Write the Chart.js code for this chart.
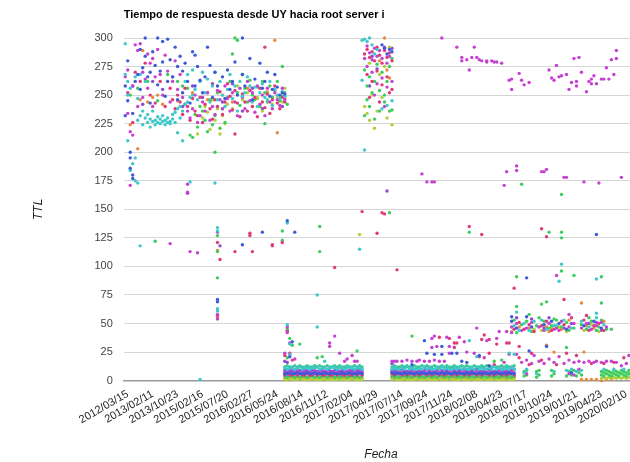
<!DOCTYPE html>
<html><head><meta charset="utf-8">
<script src="https://cdn.jsdelivr.net/npm/chart.js@4/dist/chart.umd.min.js"></script>
<style>html,body{margin:0;padding:0;background:#fff;overflow:hidden;width:630px;height:462px}#wrap{width:640px;height:462px}</style>
</head><body><div id="wrap"><canvas id="c" width="640" height="462"></canvas></div>
<script>
const chartTitle = "Tiempo de respuesta desde UY hacia root server i";
const xTitle = "Fecha";
const yTitle = "TTL";
const tickLabels = ["2012/03/15","2013/02/11","2013/10/23","2015/02/16","2015/07/20","2016/02/27","2016/05/24","2016/08/14","2016/11/12","2017/02/04","2017/04/29","2017/07/14","2017/09/24","2017/11/24","2018/02/08","2018/04/23","2018/07/17","2018/10/24","2019/01/21","2019/04/23","2020/02/10"];
const yTicks = [0,25,50,75,100,125,150,175,200,225,250,275,300];

// scattered samples per probe colour: [sample index, TTL]
const bluePts = [[-1,232],[-1,258],[0,280],[0,245],[1,200],[1,186],[2,180],[2,177],[1,195],[2,234],[3,262],[4,268],[5,290],[5,255],[6,274],[7,300],[7,284],[8,266],[9,270],[9,243],[10,288],[11,276],[12,300],[12,259],[13,271],[14,297],[14,279],[15,249],[16,262],[16,299],[17,281],[18,266],[19,292],[20,275],[20,246],[21,284],[22,271],[22,252],[23,278],[24,262],[25,243],[26,288],[27,285],[27,258],[28,275],[29,263],[30,252],[31,266],[32,292],[33,276],[34,248],[35,270],[36,258],[38,266],[39,247],[40,272],[41,255],[42,262],[43,279],[44,250],[46,300],[46,268],[47,258],[49,282],[50,246],[51,264],[53,278],[54,256],[55,262],[56,270],[57,249],[58,255],[59,268],[60,257],[61,250],[62,252],[63,251],
[46,119],[54,130],[64,140],[67,130],[36,71],[36,69],[66,34],[65,21],
[119,35],[126,30],[120,24],[123,23],[126,23],[130,24],[132,24],[134,17],[136,16],[141,22],[114,14],[145,13],
[103,291],[104,286],[105,290],[106,288],[102,294],
[156,46],[154,52],[160,56],[162,47],[167,49],[170,52],[173,50],[176,45],[183,48],[187,52],[190,46],[154,56],[160,90],[188,128],[178,7],[168,30],[161,26]];
const cyanPts = [[-1,295],[-1,268],[0,262],[0,210],[0,250],[1,256],[1,184],[2,190],[3,175],[3,195],[4,173],[3,266],[4,228],[4,247],[5,232],[5,268],[6,236],[6,224],[7,230],[7,262],[8,226],[8,233],[9,229],[9,222],[10,227],[10,236],[11,228],[11,224],[12,231],[12,226],[13,225],[13,229],[14,232],[14,227],[15,224],[15,228],[16,226],[16,230],[17,227],[17,225],[18,233],[18,229],[19,235],[19,226],[20,238],[20,217],[21,240],[21,230],[22,236],[22,210],[23,242],[23,262],[24,244],[24,268],[25,248],[25,174],[26,250],[26,272],[27,255],[28,246],[29,262],[30,270],[31,252],[32,264],[33,244],[34,258],[35,270],[35,173],[36,246],[37,262],[38,250],[39,240],[40,255],[41,268],[42,247],[43,258],[44,236],[45,262],[46,249],[47,252],[48,266],[49,258],[50,244],[51,257],[52,240],[53,252],[54,260],[55,248],[56,246],[57,262],[58,241],[59,255],[60,250],[61,247],[62,253],[63,249],
[5,118],[36,131],[36,134],[36,63],[36,61],[64,138],[29,1],[64,49],[65,32],[65,23],[76,47],[76,75],[79,17],
[94,298],[95,299],[96,297],[97,300],[98,294],[99,286],[95,202],[102,238],[104,241],[106,245],[100,290],[94,263],[93,115],
[137,35],[140,21],[153,24],[155,23],
[155,48],[157,44],[159,50],[161,44],[163,52],[166,53],[168,45],[171,48],[172,48],[175,53],[178,46],[182,52],[185,47],[188,55],[191,49],[156,60],[188,59],[188,89],[173,87],[174,102],[159,7],[160,10],[164,6],[171,8],[176,9],[178,10],[180,8],[182,9],[191,10],[195,10],[199,10]];
const magentaPts = [[-1,266],[0,272],[0,234],[1,218],[1,171],[2,215],[2,258],[3,294],[4,289],[4,240],[5,295],[6,270],[6,248],[7,264],[8,286],[8,256],[9,278],[10,282],[10,240],[11,266],[12,290],[13,268],[14,250],[15,285],[16,271],[17,244],[18,262],[19,280],[20,255],[21,268],[22,248],[23,242],[24,236],[24,172],[24,165],[25,230],[26,238],[27,250],[28,226],[29,232],[30,244],[31,236],[32,252],[33,228],[34,240],[35,233],[36,254],[37,246],[38,238],[39,258],[40,247],[41,236],[42,252],[43,244],[44,232],[45,256],[46,248],[47,238],[48,262],[49,245],[50,252],[51,235],[52,258],[53,242],[54,250],[55,232],[56,256],[57,244],[58,238],[59,252],[60,246],[61,241],[62,256],[63,246],
[17,120],[25,113],[28,112],[36,130],[36,58],[36,54],[64,47],[64,42],[65,33],[63,24],[67,19],
[81,33],[83,39],[85,24],[87,17],[88,19],[90,22],[91,17],[92,17],[81,30],
[95,282],[96,293],[97,287],[98,281],[99,291],[100,284],[101,289],[102,282],[103,292],[104,278],[105,284],[96,275],[98,270],[100,260],[102,265],[104,257],[106,262],[99,250],[103,240],
[106,17],[107,17],[108,17],[110,17],[112,18],[114,17],[116,17],[117,18],[119,17],[121,17],[123,18],[125,17],[127,17],
[122,37],[123,39],[128,38],[133,38],[140,46],[149,43],[152,43],[135,34],[144,35],[148,37],[122,29],[124,30],[129,30],[136,25],[139,24],[143,20],[129,24],[151,16],[154,42],[153,23],
[126,300],[132,292],[139,292],[134,280],[134,283],[136,281],[137,272],[138,283],[140,283],[141,281],[142,280],[144,280],[144,279],[146,280],[147,279],[148,279],[150,278],[157,269],[154,264],[153,263],[154,255],[158,263],[159,259],[161,261],[169,272],[172,276],[170,265],[171,263],[173,266],[174,267],[176,268],[179,282],[181,283],[182,270],[178,261],[180,262],[180,258],[177,255],[184,253],[185,262],[186,260],[186,264],[187,267],[188,260],[190,264],[191,264],[192,274],[193,264],[194,281],[195,268],[196,289],[196,282],
[118,181],[120,174],[122,174],[123,174],[151,171],[152,183],[156,184],[156,188],[166,183],[167,183],[168,185],[175,178],[176,178],[183,174],[189,173],[198,178],
[154,47],[156,50],[158,44],[160,46],[162,51],[165,47],[167,44],[169,50],[171,45],[173,44],[174,52],[177,47],[179,50],[182,46],[184,50],[186,45],[188,48],[190,51],[192,47],[177,58],[172,92],
[156,23],[158,16],[160,18],[162,15],[163,22],[165,17],[167,15],[169,19],[171,16],[173,21],[175,15],[177,18],[179,16],[181,17],[183,16],[185,17],[187,16],[188,17],[190,16],[192,17],[194,17],[196,16],[198,13],[200,15],[201,22],[160,6],[177,6],[179,5],[181,10]];
const pinkPts = [[0,252],[2,226],[3,270],[5,262],[7,278],[9,250],[11,243],[13,262],[15,240],[17,256],[18,246],[19,238],[20,250],[21,244],[22,233],[23,256],[24,240],[25,228],[26,247],[27,236],[28,232],[29,248],[30,226],[31,242],[32,252],[33,238],[34,229],[35,246],[36,240],[37,253],[38,233],[39,244],[40,260],[41,249],[42,237],[43,254],[44,243],[45,231],[46,251],[47,244],[48,236],[49,254],[50,240],[51,248],[52,231],[53,256],[54,244],[55,239],[56,251],[57,234],[58,246],[59,258],[60,243],[61,238],[62,248],[63,244],[55,292],[43,216],
[36,121],[37,106],[43,113],[49,129],[49,127],[50,113],[58,118],[58,119],[62,121],[36,57],[64,43],[63,22],[65,24],[66,18],[83,99],
[95,286],[96,290],[97,283],[98,288],[99,280],[100,292],[101,285],[102,278],[103,289],[104,283],[105,287],[106,280],[96,268],[98,262],[100,271],[102,259],[104,266],[106,255],[97,248],[101,244],[105,252],[94,148],[102,147],[103,146],[100,129],[108,97],
[125,38],[129,37],[143,40],[145,36],[131,33],[132,33],[142,36],[148,32],[131,29],[141,21],[145,24],[147,14],[152,33],[153,33],
[137,135],[142,128],[166,133],[168,126],[155,81],[175,71],[184,57],
[155,45],[157,51],[159,45],[161,49],[163,43],[166,48],[168,52],[170,44],[172,46],[175,49],[178,55],[183,53],[185,44],[187,48],[189,50],[191,44],[157,30],[162,24],
[157,20],[161,14],[166,18],[172,14],[176,24],[180,22],[186,15],[191,15],[195,16],[199,20]];
const greenPts = [[1,250],[4,256],[8,262],[12,245],[16,268],[20,262],[22,258],[24,256],[25,215],[26,213],[27,233],[28,222],[29,240],[30,236],[31,228],[32,218],[33,246],[34,224],[35,232],[35,200],[36,252],[37,221],[38,238],[39,226],[40,248],[41,262],[42,286],[43,300],[44,298],[44,252],[45,241],[46,268],[47,256],[48,244],[49,263],[50,250],[51,246],[52,257],[53,240],[54,262],[55,252],[56,244],[57,258],[58,248],[59,254],[60,262],[61,245],[62,249],[63,252],[64,242],[55,225],[62,275],
[11,122],[36,127],[36,113],[36,90],[62,123],[62,131],[64,45],[64,44],[65,37],[66,31],[69,32],[64,20],[77,135],[77,113],[76,20],[78,21],[92,26],
[95,272],[96,258],[97,266],[98,252],[99,262],[100,277],[101,254],[102,270],[103,250],[104,262],[105,275],[106,282],[95,232],[97,240],[99,229],[101,236],[103,244],[106,237],[96,246],[105,236],[105,147],
[114,39],[147,17],[150,18],[137,130],[158,172],[174,163],
[169,130],[174,130],[174,125],[174,96],[179,92],[190,91],[156,91],[156,65],[161,58],[166,67],[168,69],[190,68],[194,45],[176,29],
[155,53],[156,42],[158,49],[160,52],[162,43],[164,48],[165,55],[167,52],[169,46],[170,48],[171,54],[172,53],[174,47],[176,51],[177,44],[179,46],[182,49],[184,45],[185,55],[186,52],[188,44],[189,47],[190,53],[192,45],
[159,4],[159,8],[160,5],[160,9],[164,3],[164,8],[165,5],[165,9],[170,4],[170,9],[171,6],[176,4],[177,8],[178,5],[179,9],[180,4],[181,7],[182,5],
[190,5],[190,8],[191,4],[191,7],[192,6],[192,9],[193,5],[193,8],[194,4],[194,7],[195,6],[195,9],[196,5],[196,8],[197,4],[197,7],[198,6],[198,9],[199,5],[199,8],[200,4],[200,7],[201,6],[201,9],[202,5],[202,8],[203,4],[203,7],[204,6]];
const limePts = [[28,216],[30,230],[31,240],[32,235],[33,220],[34,246],[35,228],[36,238],[37,216],[38,232],[39,225],[40,242],[42,238],[44,258],[46,246],[48,252],[50,240],[52,248],[54,236],[56,252],[58,242],[60,248],[62,244],[63,256],
[95,240],[96,234],[97,228],[98,250],[100,236],[102,248],[104,230],[106,224],[99,221],[101,268],[103,275],[105,292],[97,278],[93,128],
[154,43],[163,45],[166,44],[170,46],[173,47],[176,43],[183,44],[186,49],[189,43],
[190,2],[192,2],[194,2],[196,2],[198,2],[200,2],[191,3],[193,3],[195,3],[197,3],[199,3],[201,3],[202,2],[203,3]];
const orangePts = [[1,224],[4,203],[5,246],[6,289],[8,244],[10,248],[12,250],[14,242],[20,245],[26,252],[32,246],[38,250],[42,244],[48,256],[52,247],[56,253],[59,298],[60,217],[61,245],[63,247],
[36,114],[36,55],[103,300],[101,280],[104,272],[105,265],
[157,47],[161,46],[168,47],[169,43],[174,45],[177,53],[184,48],[187,46],[191,52],[182,68],[171,25],[168,31],[183,25],
[182,1],[184,1],[186,1],[188,1],[190,0],[192,1],[194,1]];
const purplePts = [[2,258],[6,242],[10,262],[14,255],[18,266],[22,240],[24,164],[26,258],[30,248],[34,260],[38,244],[42,260],[46,236],[50,256],[54,238],[58,248],[62,240],
[37,118],[63,17],[64,16],[98,284],[100,273],[104,166],[106,291],[97,258],[106,15],
[156,55],[162,54],[167,46],[169,55],[175,46],[178,50],[185,50],[188,51],[190,44]];

// low-TTL band, one value per consecutive sample starting at bandStart (null = no sample)
const bandStart = 63;
const limeBand = [1,1,2,1,1,1,2,1,1,1,1,2,1,1,1,1,2,1,1,1,1,1,2,1,1,1,1,2,1,1,1,1,null,null,null,null,null,null,null,null,null,null,null,1,2,1,1,1,2,1,1,1,1,2,1,1,1,2,1,1,1,1,2,1,1,1,2,1,1,1,1,2,1,1,1,2,1,1,1,1,2,1,1,1,2,1,1,1,1,2,1,1,1];
const orangeBand = [2,3,2,2,3,2,2,2,3,2,2,3,2,2,2,3,2,2,3,2,2,2,3,2,2,3,2,2,2,3,2,2,null,null,null,null,null,null,null,null,null,null,null,3,2,2,3,2,2,2,3,2,2,3,2,2,2,3,2,2,3,2,2,2,3,2,2,3,2,2,2,3,2,2,3,2,2,2,3,2,2,3,2,2,2,3,2,2,3,2,2,2,3];
const greenBand = [4,3,4,4,3,4,3,4,4,3,4,4,3,4,3,4,4,3,4,4,3,4,3,4,4,3,4,4,3,4,3,4,null,null,null,null,null,null,null,null,null,null,null,4,3,4,3,4,4,3,4,3,4,4,3,4,3,4,4,3,4,3,4,4,3,4,3,4,4,3,4,3,4,4,3,4,3,4,4,3,4,3,4,4,3,4,3,4,4,3,4,3,4];
const pinkBand = [5,6,5,5,6,5,6,5,5,6,5,5,6,5,6,5,5,6,5,5,6,5,6,5,5,6,5,5,6,5,6,5,null,null,null,null,null,null,null,null,null,null,null,6,5,6,6,5,6,5,6,6,5,6,5,6,6,5,6,5,6,6,5,6,5,6,6,5,6,5,6,6,5,6,5,6,6,5,6,5,6,6,5,6,5,6,6,5,6,5,6,6,5];
const blueBand = [6,6,7,6,6,7,6,6,6,7,6,6,7,6,6,6,7,6,6,7,6,6,6,7,6,6,7,6,6,6,7,6,null,null,null,null,null,null,null,null,null,null,null,7,6,7,6,6,7,6,7,6,6,7,6,7,6,6,7,6,7,6,6,7,6,7,6,6,7,6,7,6,6,7,6,7,6,6,7,6,7,6,6,7,6,7,6,6,7,6,7,6,6];
const magentaBand = [7,7,8,7,7,8,7,7,7,8,7,7,8,7,7,7,8,7,7,8,7,7,7,8,7,7,8,7,7,7,8,7,null,null,null,null,null,null,null,null,null,null,null,8,7,7,8,7,8,7,7,8,7,8,7,7,8,7,8,7,7,8,7,8,7,7,8,7,8,7,7,8,7,8,7,7,8,7,8,7,7,8,7,8,7,7,8,7,8,7,7,8,7];
const purpleBand = [9,8,9,9,8,9,9,8,9,9,8,9,9,8,9,9,8,9,9,8,9,9,8,9,9,8,9,9,8,9,9,8,null,null,null,null,null,null,null,null,null,null,null,9,9,8,9,10,9,8,9,9,10,9,8,9,9,10,9,8,9,9,10,9,8,9,9,10,9,8,9,9,10,9,8,9,9,10,9,8,9,9,10,9,8,9,9,10,9,8,9,9,10];
const cyanBand = [11,10,11,11,10,11,12,10,11,11,10,11,11,12,10,11,11,10,11,12,11,10,11,11,10,11,12,11,10,11,11,10,null,null,null,null,null,null,null,null,null,null,null,10,11,10,10,11,10,12,10,11,10,10,11,10,12,10,11,10,10,11,10,12,10,11,10,10,11,10,12,10,11,10,10,11,10,12,10,11,10,10,11,10,12,10,11,10,10,11,10,12,10];
const tealBand = [12,13,12,12,13,12,13,12,12,13,12,12,13,12,13,12,12,13,12,12,13,12,13,12,12,13,12,12,13,12,13,12,null,null,null,null,null,null,null,null,null,null,null,12,13,12,12,13,12,13,12,12,13,12,12,13,12,13,12,12,13,12,12,13,12,13,12,12,13,12,12,13,12,13,12,12,13,12,12,13,12,13,12,12,13,12,12,13,12,13,12,12,13];

const seriesDefs = [
  {color:'#3d5bd8', pts:bluePts, band:blueBand},
  {color:'#3fc7c9', pts:cyanPts, band:cyanBand},
  {color:'#c640d2', pts:magentaPts, band:magentaBand},
  {color:'#e0397a', pts:pinkPts, band:pinkBand},
  {color:'#3ecc5c', pts:greenPts, band:greenBand},
  {color:'#b3d03c', pts:limePts, band:limeBand},
  {color:'#e8893c', pts:orangePts, band:orangeBand},
  {color:'#8d48d8', pts:purplePts, band:purpleBand},
  {color:'#39c99a', pts:[], band:tealBand}
];

const datasets = seriesDefs.map(s => {
  const data = s.pts.map(p => ({x:p[0], y:p[1]}));
  s.band.forEach((v,k) => { if (v != null) data.push({x:bandStart + k, y:v}); });
  return {data, backgroundColor:s.color, borderColor:s.color, pointRadius:1.7, pointBorderWidth:0, pointHoverRadius:0, clip:false};
});

const FONT = "'Liberation Sans', Arial, sans-serif";
Chart.defaults.font.family = FONT;

const titlePlugin = {
  id:'leftTitle',
  afterDraw(chart){
    const ctx = chart.ctx;
    ctx.save();
    ctx.font = "bold 11px " + FONT;
    ctx.fillStyle = '#000';
    ctx.textBaseline = 'middle';
    ctx.textAlign = 'left';
    ctx.fillText(chartTitle, chart.chartArea.left, 15);
    ctx.restore();
  }
};

new Chart(document.getElementById('c'), {
  type:'scatter',
  data:{datasets},
  options:{
    responsive:false, animation:false, events:[],
    layout:{padding:{top:38, right:0, left:0, bottom:0}},
    plugins:{legend:{display:false}, tooltip:{enabled:false}, title:{display:false}},
    scales:{
      x:{type:'linear', min:-1.6, max:204.8,
        afterBuildTicks(scale){ scale.ticks = tickLabels.map((l,k)=>({value:k*10})); },
        ticks:{autoSkip:false, maxRotation:30, minRotation:30, padding:-1, color:'#222', font:{size:11},
          callback:(v)=> tickLabels[Math.round(v/10)]},
        grid:{display:false}, border:{display:true, color:'#9a9a9a', width:1.5},
        title:{display:true, text:xTitle, color:'#222', font:{size:12, style:'italic'}, padding:{top:22, bottom:0}}
      },
      y:{min:0, max:300,
        afterBuildTicks(scale){ scale.ticks = yTicks.map(v=>({value:v})); },
        ticks:{color:'#444', font:{size:11}, padding:11},
        grid:{color:(c)=> c.tick && c.tick.value===0 ? '#9a9a9a' : '#d6d6d6', lineWidth:1, drawTicks:false},
        border:{display:false},
        title:{display:true, text:yTitle, color:'#222', font:{size:12, style:'italic'}, padding:{top:31, bottom:38}}
      }
    }
  },
  plugins:[titlePlugin]
});
</script></body></html>
